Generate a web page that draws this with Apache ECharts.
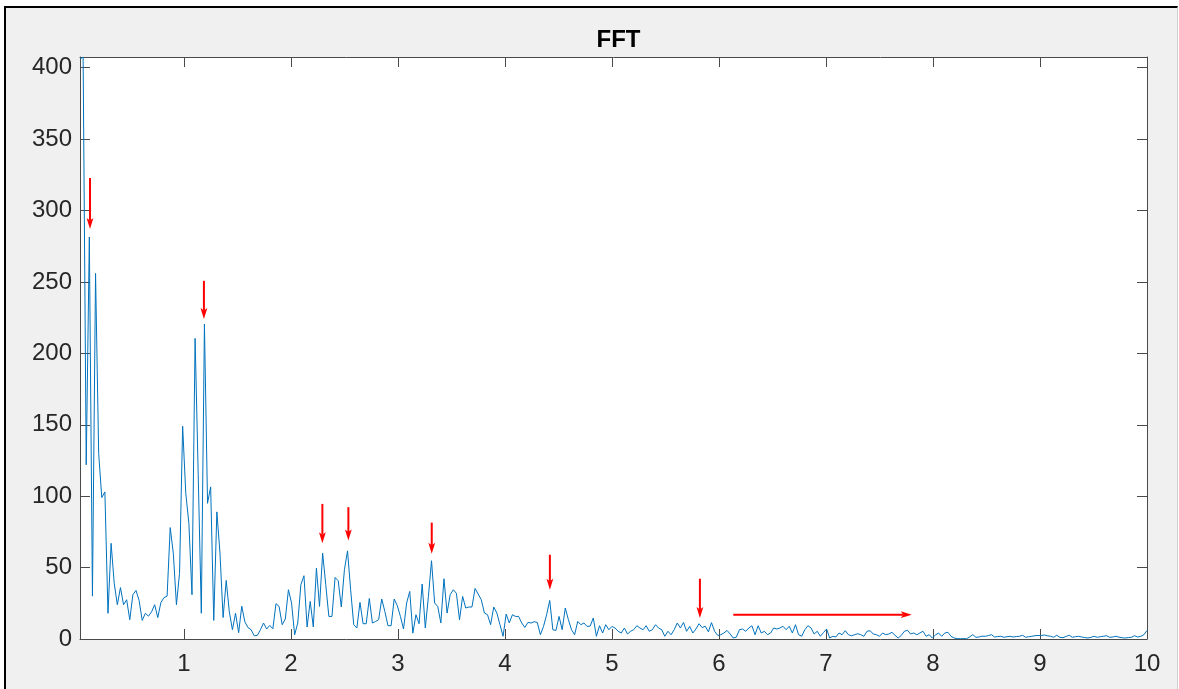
<!DOCTYPE html>
<html>
<head>
<meta charset="utf-8">
<title>FFT</title>
<script src="https://cdn.jsdelivr.net/npm/echarts@6/dist/echarts.min.js"></script>
<style>
  html, body { margin: 0; padding: 0; background: #ffffff; width: 1179px; height: 689px; overflow: hidden; }
  #panel {
    position: absolute; left: 4px; top: 6px; width: 1171px; height: 700px;
    background: #f0f0f0;
    border-top: 2px solid #000000; border-left: 2px solid #000000; border-right: 1px solid #cfcfcf;
  }
  #chart { position: absolute; left: 0; top: 0; width: 1179px; height: 689px; }
</style>
</head>
<body>
<div id="panel"></div>
<div id="chart"></div>
<script>
// Frequency resolution of the spectrum (bins k = 1..344 span 0 – 10 Hz)
const FREQ_STEP = 10 / 344;

// |FFT| magnitude per bin, split by frequency band
const magBand1 = [ // bins 1–60  (≈0.03 – 1.74)
  406, 407.5, 122, 281.5, 30, 256, 130, 99, 103, 18,
  67, 39, 24, 36, 24, 27.5, 13.5, 31, 34, 27,
  13, 18, 16, 19, 24, 15, 25.5, 29, 30, 78,
  60, 24, 46, 149, 102, 81, 31, 210.5, 115, 18,
  220.5, 95, 106.5, 13, 89, 60, 15, 41, 19, 6.5,
  18, 4.4, 23, 12, 8, 6.5, 2.3, 2.5, 6.5, 11.2
];
const magBand2 = [ // bins 61–160 (≈1.77 – 4.65)
  7, 9.5, 7.2, 24.7, 22.8, 10, 14, 34.5, 25.2, 3,
  11.2, 38, 44.3, 8.4, 26.3, 8.4, 49.6, 22.8, 60.1, 38,
  15.8, 15.8, 43.1, 40.8, 22.4, 48.5, 61.7, 34.5, 10, 7.7,
  25.6, 10.7, 10.7, 28.4, 11.2, 12.3, 13.5, 28, 19.3, 9.3,
  9.3, 28, 23.3, 15.8, 7, 25.2, 33.3, 4.1, 17, 10.7,
  38.5, 7.7, 29.8, 54.8, 25.2, 22.8, 11.2, 42.2, 18.2, 31,
  34.5, 32, 13.5, 29.8, 21.7, 22.4, 22.4, 35.4, 31.5, 27.5,
  18.2, 17, 10, 22.4, 18.2, 10, 1.9, 17.5, 11.2, 17,
  15.8, 15.8, 11.2, 8.1, 11.6, 11.2, 12.1, 11.6, 3, 8.8,
  17, 27, 6.5, 6, 15.8, 6.5, 21.7, 13.5, 6.5, 3
];
const magBand3 = [ // bins 161–260 (≈4.68 – 7.56)
  12.3, 10, 11.2, 8.8, 9, 14.7, 1.9, 9.3, 4.2, 10,
  6.5, 8.8, 7.7, 5.4, 4.2, 7.7, 3.5, 5.4, 6.5, 9.3,
  7.7, 6.5, 9.3, 5.4, 6.5, 10, 7.7, 6.5, 1.9, 5.4,
  3, 6.5, 11.2, 7.7, 11.6, 5.4, 8.8, 4.2, 7, 10.7,
  8, 8.9, 5, 11.5, 5.4, 2.5, 3, 4.2, 6, 3.5,
  0.7, 1.4, 6.5, 7, 5.4, 7.7, 9.3, 3, 9.3, 4.2,
  5.4, 3, 4.2, 7.7, 7, 7.7, 8.9, 6.5, 8.9, 4.2,
  10, 3, 1.9, 6.5, 9.3, 7.7, 3.5, 5.4, 1.9, 4.5,
  7, 0.7, 1.9, 1.4, 4.2, 3, 5.8, 3, 2.3, 3,
  3.7, 3, 1.9, 5.4, 5.8, 3.5, 3, 1.9, 4.2, 3
];
const magBand4 = [ // bins 261–344 (≈7.59 – 10)
  3.5, 4.7, 2.6, 0.7, 2.5, 5.4, 6.1, 3.5, 4.2, 3,
  4.2, 5.4, 1.9, 3, 0.7, 2.8, 4.2, 1.9, 4.2, 4.7,
  1.9, 0.7, 0.3, 0.2, 0.3, 0.2, 1.5, 3, 1.2, 1.4,
  2, 1.9, 2.4, 3, 1.4, 1.7, 1.9, 1.2, 1.6, 1.9,
  1.4, 1.7, 1.9, 2.6, 1.2, 1.6, 1.9, 2.3, 2.5, 2.4,
  2.8, 2.2, 1.9, 1.2, 2.6, 1.2, 0.9, 1.8, 2.6, 1.2,
  1.6, 1.9, 1.4, 1, 0.7, 1.2, 1.9, 1.2, 1.6, 1.9,
  2.3, 1.2, 1.4, 1.9, 1.3, 0.9, 0.7, 1, 1.2, 2.3,
  1.4, 1.9, 3, 6
];

// Tick positions
const xTickValues = [1, 2, 3, 4, 5, 6, 7, 8, 9, 10];
const yTickValues = [0, 50, 100, 150, 200, 250, 300, 350, 400];

// Annotation arrows: [fromFreq, fromMag, toFreq, toMag]
const arrowMarks = [
  [0.1225, 322.8, 0.1225, 287.0],
  [1.187, 250.8, 1.187, 224.0],
  [2.294, 94.6, 2.294, 67.1],
  [2.537, 92.3, 2.537, 69.0],
  [3.316, 81.5, 3.316, 59.7],
  [4.420, 59.0, 4.420, 34.5],
  [5.822, 42.2, 5.822, 14.7],
  [6.134, 17.0, 7.802, 17.0]
];

const magnitude = [].concat(magBand1, magBand2, magBand3, magBand4);
const spectrum = magnitude.map((m, i) => [(i + 1) * FREQ_STEP, m]);
const yTop = Math.max.apply(null, magnitude);

const AXIS_COLOR = '#4a4a4a';
const LABEL_FONT = 'Liberation Sans, Arial, Helvetica, sans-serif';

function frameAxis(opts) {
  return Object.assign({
    type: 'value',
    axisLine: { show: true, onZero: false, lineStyle: { color: AXIS_COLOR, width: 1 } },
    axisTick: { show: true, inside: true, length: 10, lineStyle: { color: AXIS_COLOR, width: 1 } },
    axisLabel: { show: false },
    splitLine: { show: false }
  }, opts);
}

function xAxisAt(position, showLabels) {
  const ax = frameAxis({ position: position, min: FREQ_STEP, max: 10 });
  ax.axisTick.customValues = xTickValues;
  ax.axisLabel = {
    show: showLabels, customValues: xTickValues, margin: 13,
    fontFamily: LABEL_FONT, fontSize: 24, color: '#262626'
  };
  return ax;
}

function yAxisAt(position, showLabels) {
  const ax = frameAxis({ position: position, min: 0, max: yTop });
  ax.axisTick.customValues = yTickValues;
  ax.axisLabel = {
    show: showLabels, customValues: yTickValues, margin: 8,
    padding: [5, 0, 0, 0],
    fontFamily: LABEL_FONT, fontSize: 24, color: '#262626'
  };
  return ax;
}

const chart = echarts.init(document.getElementById('chart'), null, { renderer: 'canvas' });

chart.setOption({
  animation: false,
  backgroundColor: 'transparent',
  title: {
    text: 'FFT', left: 613.5, top: 23, textAlign: 'center',
    textStyle: { fontFamily: LABEL_FONT, fontWeight: 'bold', fontSize: 24, color: '#000000' }
  },
  grid: {
    left: 80, top: 57, width: 1067, height: 582,
    show: true, backgroundColor: '#ffffff', borderWidth: 0
  },
  xAxis: [xAxisAt('bottom', true), xAxisAt('top', false)],
  yAxis: [yAxisAt('left', true), yAxisAt('right', false)],
  series: [
    {
      name: 'FFT',
      type: 'line',
      xAxisIndex: 0, yAxisIndex: 0,
      data: spectrum,
      showSymbol: false, symbol: 'none',
      lineStyle: { color: '#0072bd', width: 1 },
      silent: true, clip: true, z: 2
    },
    {
      name: 'markers',
      type: 'custom',
      xAxisIndex: 0, yAxisIndex: 0,
      data: arrowMarks,
      silent: true, clip: false, z: 5,
      renderItem: function (params, api) {
        const a = api.coord([api.value(0), api.value(1)]);
        const b = api.coord([api.value(2), api.value(3)]);
        const dx = b[0] - a[0], dy = b[1] - a[1];
        const len = Math.hypot(dx, dy) || 1;
        const ux = dx / len, uy = dy / len;
        const nx = -uy, ny = ux;
        const headLen = 11, headHalf = 3.4, notch = 2.5;
        const base = [b[0] - ux * headLen, b[1] - uy * headLen];
        const inner = [b[0] - ux * (headLen - notch), b[1] - uy * (headLen - notch)];
        return {
          type: 'group',
          children: [
            {
              type: 'line',
              shape: { x1: a[0], y1: a[1], x2: inner[0], y2: inner[1] },
              style: { stroke: '#ff0000', lineWidth: 2 }
            },
            {
              type: 'polygon',
              shape: { points: [
                [b[0], b[1]],
                [base[0] + nx * headHalf, base[1] + ny * headHalf],
                inner,
                [base[0] - nx * headHalf, base[1] - ny * headHalf]
              ] },
              style: { fill: '#ff0000' }
            }
          ]
        };
      }
    }
  ]
});
</script>
</body>
</html>
